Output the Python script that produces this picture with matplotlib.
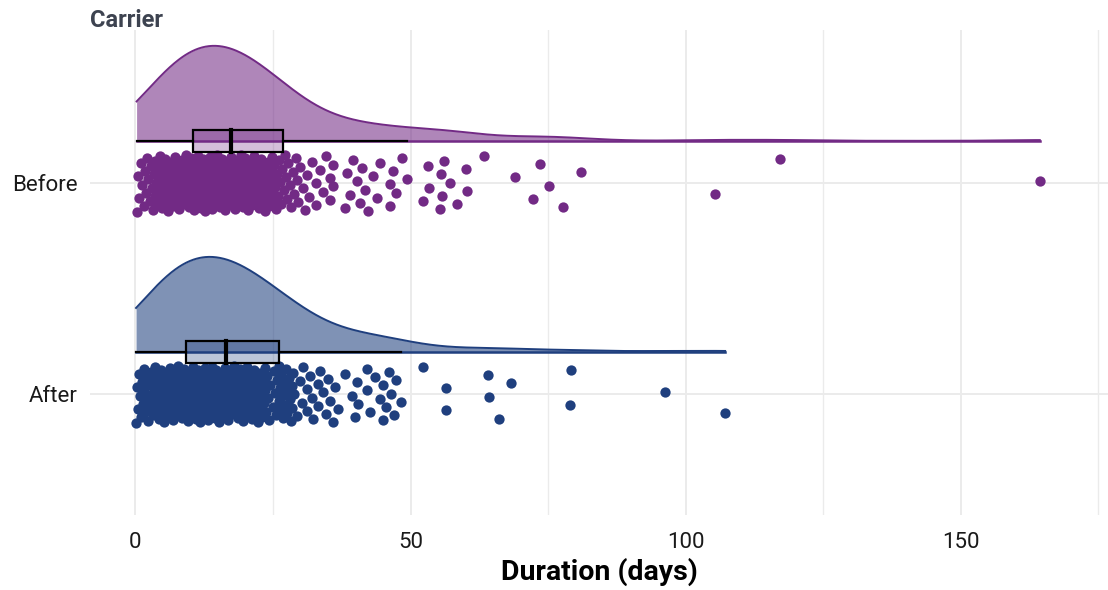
import numpy as np
import matplotlib.pyplot as plt
from matplotlib.patches import Rectangle

plt.rcParams['font.family'] = ['Roboto', 'DejaVu Sans']

# data: durations in days
groups = ['After', 'Before']
colors = {'Before': '#722A85', 'After': '#1F3F7E'}

before_days = [
    0.2, 0.5, 0.7, 1.0, 1.2, 1.5, 1.7, 1.9, 2.1, 2.3, 2.6, 2.8, 3.0, 3.1, 3.3, 3.5, 3.6, 3.8,
    4.0, 4.1, 4.2, 4.4, 4.5, 4.6, 4.7, 4.8, 4.9,
    5.0, 5.1, 5.3, 5.4, 5.6, 5.7, 5.9, 6.0, 6.2, 6.3, 6.5, 6.6, 6.8, 6.9, 7.1, 7.2, 7.4, 7.5,
    7.7, 7.8, 8.0, 8.1, 8.3, 8.4, 8.6, 8.7, 8.9, 9.0, 9.1, 9.3, 9.4, 9.5, 9.7, 9.8, 9.9,
    10.0, 10.1, 10.2, 10.3, 10.4, 10.5, 10.6, 10.7, 10.8, 10.9, 11.0, 11.1, 11.2, 11.3, 11.4,
    11.5, 11.6, 11.7, 11.8, 11.9, 12.0, 12.1, 12.2, 12.3, 12.4, 12.5, 12.6, 12.7, 12.8, 12.9,
    13.0, 13.1, 13.2, 13.3, 13.4, 13.5, 13.6, 13.7, 13.8, 13.9, 14.0, 14.1, 14.2, 14.3, 14.4,
    14.5, 14.6, 14.7, 14.8, 14.9,
    15.0, 15.1, 15.2, 15.4, 15.5, 15.6, 15.7, 15.8, 16.0, 16.1, 16.2, 16.3, 16.5, 16.6, 16.7,
    16.8, 17.0, 17.1, 17.2, 17.4, 17.5, 17.6, 17.8, 17.9, 18.0, 18.2, 18.3, 18.4, 18.6, 18.7,
    18.8, 19.0, 19.1, 19.2, 19.3, 19.4, 19.5, 19.6, 19.7, 19.8, 19.9, 19.95,
    20.0, 20.1, 20.3, 20.4, 20.6, 20.7, 20.9, 21.0, 21.2, 21.3, 21.5, 21.6, 21.8, 21.9, 22.1,
    22.2, 22.4, 22.5, 22.7, 22.8, 23.0, 23.1, 23.3, 23.4, 23.6, 23.7, 23.9, 24.0, 24.2, 24.3,
    24.5, 24.6, 24.8, 24.9, 24.95,
    25.1, 25.3, 25.6, 25.8, 25.9, 26.0, 26.2, 26.5, 26.7, 27.0, 27.2, 27.4, 27.5, 27.8, 28.0,
    28.3, 28.6, 28.9, 29.1, 29.4, 29.6, 29.9,
    30.4, 30.8, 31.1, 31.6, 32.0, 32.9, 32.9, 33.5, 34.1, 34.6,
    35.3, 35.3, 35.9, 35.9, 38.0, 38.4, 39.0, 39.6,
    40.3, 40.8, 41.1, 41.8, 42.3, 43.2, 43.9, 44.4,
    46.2, 46.2, 46.8, 47.3, 48.4, 49.3,
    52.3, 53.1, 53.3, 55.3, 55.5, 55.7, 56.1, 57.2, 58.4,
    60.1, 60.2, 63.4, 69.0, 72.3, 73.5, 75.2, 77.7, 81.0,
    105.4, 117.2, 164.4,
]

after_days = [
    0.1, 0.3, 0.5, 0.6, 0.8, 1.0, 1.1, 1.3, 1.5, 1.6, 1.8, 2.0, 2.1, 2.3, 2.5, 2.6, 2.8, 3.0,
    3.1, 3.3, 3.5, 3.6, 3.8, 3.9, 4.0, 4.1, 4.3, 4.4, 4.5, 4.6, 4.7, 4.8, 4.9,
    5.0, 5.1, 5.3, 5.4, 5.5, 5.7, 5.8, 5.9, 6.0, 6.2, 6.3, 6.4, 6.5, 6.7, 6.8, 6.9, 7.0, 7.2,
    7.3, 7.4, 7.5, 7.7, 7.8, 7.9, 8.0, 8.2, 8.3, 8.4, 8.5, 8.7, 8.8, 8.9, 9.0, 9.2, 9.3, 9.5,
    9.7, 9.9,
    10.0, 10.1, 10.2, 10.3, 10.4, 10.5, 10.6, 10.7, 10.8, 10.9, 11.0, 11.1, 11.2, 11.3, 11.4,
    11.5, 11.6, 11.7, 11.8, 11.9, 12.0, 12.1, 12.2, 12.3, 12.4, 12.5, 12.6, 12.7, 12.8, 12.9,
    13.0, 13.1, 13.2, 13.3, 13.4, 13.5, 13.6, 13.7, 13.8, 13.9, 14.0, 14.1, 14.2, 14.3, 14.4,
    14.5, 14.6, 14.7, 14.8, 14.9,
    15.0, 15.1, 15.2, 15.3, 15.5, 15.6, 15.7, 15.8, 16.0, 16.1, 16.2, 16.4, 16.5, 16.6, 16.7,
    16.9, 17.0, 17.1, 17.3, 17.4, 17.5, 17.7, 17.8, 17.9, 18.1, 18.2, 18.3, 18.5, 18.6, 18.7,
    18.9, 19.0, 19.1, 19.2, 19.3, 19.4, 19.5, 19.6, 19.7, 19.8, 19.9, 19.95,
    20.0, 20.2, 20.3, 20.5, 20.6, 20.8, 20.9, 21.1, 21.2, 21.4, 21.5, 21.7, 21.8, 22.0, 22.1,
    22.3, 22.4, 22.6, 22.7, 22.9, 23.0, 23.2, 23.3, 23.5, 23.6, 23.8, 23.9, 24.1, 24.2, 24.4,
    25.0, 25.2, 25.4, 25.5, 25.7, 26.0, 26.1, 26.2, 26.3, 26.5, 26.6, 26.8, 27.0, 27.1, 27.3,
    27.4, 27.6, 27.9, 28.0, 28.2, 28.4, 28.5, 28.7, 28.9, 29.3, 29.9,
    30.2, 30.5, 31.1, 31.1, 31.7, 32.0, 32.3, 33.2, 33.2, 33.5, 34.0, 34.6,
    35.0, 35.3, 35.9, 36.2, 36.8, 38.0, 39.3, 39.9,
    40.2, 40.5, 42.0, 42.0, 42.6, 43.5, 44.4,
    45.0, 45.0, 45.6, 46.1, 46.5, 47.0, 47.3, 48.2,
    52.3, 56.4, 56.4,
    64.1, 64.3, 66.1, 68.3, 79.0, 79.2,
    96.3, 107.2,
]

data = {'Before': np.array(before_days), 'After': np.array(after_days)}


def trimmed_kde(v, grid, bw):
    # gaussian kernel density, evaluated only over the data range
    return np.exp(-0.5 * ((grid[:, None] - v[None, :]) / bw) ** 2).sum(axis=1)


fig = plt.figure(figsize=(11.08, 5.9), dpi=100)
ax = fig.add_axes([90 / 1108, 75 / 590, 1018 / 1108, 485 / 590])

slab_h = 0.45
slab_off = 0.2
box_half = 0.052
jit = {'Before': 0.135, 'After': 0.135}

for i, g in enumerate(groups):
    v = np.sort(data[g])
    col = colors[g]
    base = i + slab_off

    # half-eye density
    grid = np.linspace(v.min(), v.max(), 800)
    q1, med, q3 = np.percentile(v, [25, 50, 75])
    dens = trimmed_kde(v, grid, 6.5)
    dens = dens / dens.max() * slab_h
    ax.fill_between(grid, base, base + dens, color=col, alpha=0.57, lw=0, zorder=2)
    ax.plot(grid, base + dens, color=col, lw=1.4, zorder=3)
    ax.plot([v.min(), v.max()], [base, base], color=col, lw=1.8, zorder=3)

    # jittered raw points (deterministic jitter)
    offs = ((np.arange(len(v)) * 0.6180339887) % 1 - 0.5) * 2 * jit[g]
    ax.scatter(v, i + offs, s=55, color=col, lw=0, zorder=4)

    # boxplot
    iqr = q3 - q1
    lo_w = v[v >= q1 - 1.5 * iqr].min()
    hi_w = v[v <= q3 + 1.5 * iqr].max()
    ax.plot([lo_w, q1], [base, base], color='black', lw=1.6, zorder=5)
    ax.plot([q3, hi_w], [base, base], color='black', lw=1.6, zorder=5)
    ax.add_patch(Rectangle((q1, base - box_half), iqr, 2 * box_half,
                           facecolor=col, alpha=0.3, lw=0, zorder=5))
    ax.add_patch(Rectangle((q1, base - box_half), iqr, 2 * box_half,
                           facecolor='none', edgecolor='black', lw=1.6, zorder=6))
    ax.plot([med, med], [base - box_half, base + box_half], color='black', lw=3, zorder=6)

ax.set_xlim(-8.27, 176.8)
ax.set_ylim(-0.573, 1.725)
ax.set_xticks([0, 50, 100, 150])
ax.set_xticks([25, 75, 125, 175], minor=True)
ax.set_yticks([0, 1])
ax.set_yticklabels(groups)
ax.grid(which='major', color='#EBEBEB', lw=1.4, zorder=0)
ax.grid(which='minor', axis='x', color='#EBEBEB', lw=1.0, zorder=0)
ax.set_axisbelow(True)
for s in ax.spines.values():
    s.set_visible(False)
ax.tick_params(which='both', length=0)
ax.tick_params(axis='y', labelsize=16, pad=9, labelcolor='#1a1a1a')
ax.tick_params(axis='x', labelsize=16, pad=12, labelcolor='#1a1a1a')
ax.set_xlabel('Duration (days)', fontsize=20.5, fontweight='bold', labelpad=4)

fig.text(90 / 1108, 1 - 27 / 590, 'Carrier', fontsize=17, fontweight='bold',
         color='#3D4350', ha='left', va='baseline')

fig.savefig('out.png', dpi=100)
